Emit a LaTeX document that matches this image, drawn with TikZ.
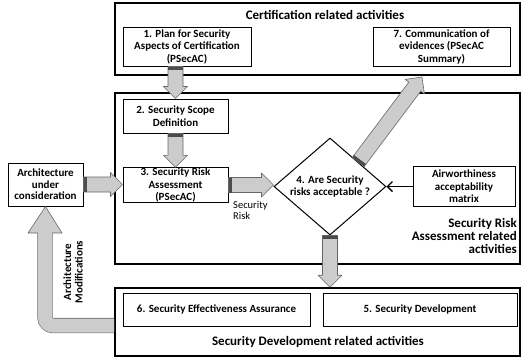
\documentclass[tikz,border=0pt]{standalone}
\usepackage{fontspec}
\setmainfont{Carlito}
\usetikzlibrary{calc,shapes.geometric,arrows.meta}

\newcommand{\boxfont}{\bfseries\fontsize{11}{12.5}\selectfont}
\newcommand{\titlefont}{\bfseries\fontsize{13}{13}\selectfont}

% Wide grey block arrow from #1 to #2
\newcommand{\fatarrow}[2]{%
  \coordinate (fb) at ($(#2)!12pt!(#1)$);
  \filldraw[fatfill] ($(#1)!7.5pt!90:(#2)$) -- ($(fb)!7.5pt!90:(#2)$)
    -- ($(fb)!12pt!90:(#2)$) -- (#2) -- ($(fb)!12pt!-90:(#2)$)
    -- ($(fb)!7.5pt!-90:(#2)$) -- ($(#1)!7.5pt!-90:(#2)$) -- cycle;
  \coordinate (fs) at ($(#1)!1.5pt!(#2)$);
  \draw[startband] ($(fs)!7.5pt!90:(#2)$) -- ($(fs)!7.5pt!-90:(#2)$);
}

\begin{document}
\begin{tikzpicture}[x=1pt,y=-1pt,
    outerbox/.style={draw, line width=1.6pt, inner sep=0pt},
    stepbox/.style={draw, line width=1pt, align=center, inner sep=0pt, font=\boxfont},
    fatfill/.style={fill=black!20, draw=black!60, line width=0.6pt, line join=round},
    startband/.style={line width=3pt, black!70}]
    \useasboundingbox (0,0) rectangle (521,360);
    % Activity areas
    \node[outerbox, minimum width=405pt, minimum height=72pt] (cert) at (317.5,39) {};
    \node[outerbox, minimum width=405pt, minimum height=171pt] (risk) at (317.5,178.5) {};
    \node[outerbox, minimum width=405pt, minimum height=68pt] (dev) at (317.5,322) {};
    % Area titles
    \node[font=\titlefont, inner sep=0pt] (certtitle) at (325,14.5) {Certification related activities};
    \node[font=\titlefont, inner sep=0pt, align=right, anchor=north east] (risktitle) at (517,218) {Security Risk\\Assessment related\\activities};
    \node[font=\titlefont, inner sep=0pt] (devtitle) at (318,342) {Security Development related activities};
    % Steps
    \node[stepbox, minimum width=128pt, minimum height=39pt] (b1) at (187,46.5) {1. Plan for Security\\Aspects of Certification\\(PSecAC)};
    \node[stepbox, minimum width=137pt, minimum height=39pt] (b7) at (441.5,46.5) {7. Communication of\\evidences (PSecAC\\Summary)};
    \node[stepbox, minimum width=105pt, minimum height=34pt] (b2) at (175.5,116) {2. Security Scope\\Definition};
    \node[stepbox, minimum width=105pt, minimum height=34pt] (b3) at (175.5,185) {3. Security Risk\\Assessment\\(PSecAC)};
    \node[stepbox, minimum width=75pt, minimum height=43pt, font=\bfseries\fontsize{11}{11.5}\selectfont] (arch) at (45.5,184.5) {Architecture\\under\\consideration};
    \node[draw, diamond, aspect=1.2, line width=1pt, minimum width=112pt, minimum height=97pt, inner sep=0pt, align=center, font=\boxfont] (dec) at (330,186.5) {4. Are Security\\risks acceptable ?};
    \node[stepbox, minimum width=102pt, minimum height=40pt] (air) at (464,186.5) {Airworthiness\\acceptability\\matrix};
    \node[stepbox, minimum width=187pt, minimum height=33pt] (b6) at (216.5,309.5) {6. Security Effectiveness Assurance};
    \node[stepbox, minimum width=194pt, minimum height=33pt] (b5) at (420,309.5) {5. Security Development};
    % Labels on the arrows
    \node[font=\fontsize{10.5}{11}\selectfont, align=left, anchor=north west, inner sep=0pt] (risklabel) at (233,201.5) {Security\\Risk};
    \node[rotate=90, font=\bfseries\fontsize{11}{11.5}\selectfont, align=center, inner sep=0pt] (modlabel) at (73,272) {Architecture\\Modifications};
    % Block arrows
    \coordinate (s12) at (b2.north |- b1.south);
    \fatarrow{s12}{b2.north}
    \fatarrow{b2.south}{b3.north}
    \coordinate (e03) at (arch.east -| b3.west);
    \fatarrow{arch.east}{e03}
    \coordinate (e34) at (b3.east -| dec.west);
    \fatarrow{b3.east}{e34}
    \coordinate (e47) at (422,77);
    \fatarrow{dec.north east}{e47}
    \coordinate (e45) at (dec.south |- dev.north);
    \fatarrow{dec.south}{e45}
    % Return arrow to the architecture
    \draw[line width=15.2pt, black!60, rounded corners=8pt] (114,325.5) -- (45,325.5) -- (45,232);
    \draw[line width=14pt, black!20, rounded corners=8pt] (114,325.5) -- (45,325.5) -- (45,232);
    \fill[black!20] (38,233) -- (28,233) -- (arch.south) -- (62,233) -- (52,233) -- cycle;
    \draw[black!60, line width=0.6pt, line join=round] (38,233) -- (28,233) -- (arch.south) -- (62,233) -- (52,233);
    % Matrix input
    \coordinate (e84) at (air.west -| dec.east);
    \draw[line width=1.4pt, -{Straight Barb[length=5pt, width=10pt]}] (air.west) -- (e84);
\end{tikzpicture}
\end{document}
